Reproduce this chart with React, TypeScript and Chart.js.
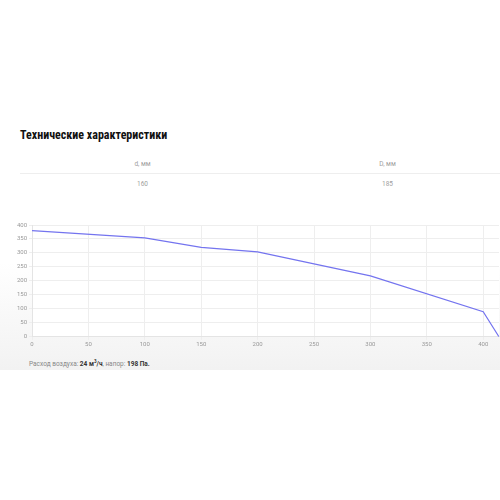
import { useEffect, useRef } from "react";
import Chart from "chart.js/auto";
import type { Plugin } from "chart.js";

// air flow, m3/h
const flowValues = [0, 100, 150, 200, 300, 400, 414];
// pressure, Pa
const pressureValues = [380, 354, 320, 304, 218, 90, 0];

const tableHeaders = ["d, мм", "D, мм"];
const tableValues = ["160", "185"];

const chartAreaBackground: Plugin<"line"> = {
    id: "chartAreaBackground",
    beforeDraw(chart) {
        const { ctx, chartArea } = chart;
        ctx.save();
        ctx.fillStyle = "#ffffff";
        ctx.fillRect(
            chartArea.left,
            chartArea.top,
            chartArea.right - chartArea.left,
            chartArea.bottom - chartArea.top
        );
        ctx.restore();
    },
};

function FanCurve() {
    const canvasRef = useRef<HTMLCanvasElement | null>(null);
    const chartRef = useRef<Chart | null>(null);

    useEffect(() => {
        const canvas = canvasRef.current;
        if (!canvas) {
            return;
        }

        if (chartRef.current) {
            chartRef.current.destroy();
        }

        const points = flowValues.map((x, i) => ({ x, y: pressureValues[i] }));
        const tickFont = { family: "Roboto, Arial, sans-serif", size: 6 };

        chartRef.current = new Chart(canvas, {
            type: "line",
            data: {
                datasets: [
                    {
                        data: points,
                        borderColor: "#7474ef",
                        backgroundColor: "#7474ef",
                        borderWidth: 1.2,
                        pointRadius: 0,
                        tension: 0,
                        fill: false,
                    },
                ],
            },
            options: {
                animation: false,
                responsive: true,
                maintainAspectRatio: false,
                layout: { padding: { top: 6, right: 1, left: 0, bottom: 0 } },
                scales: {
                    x: {
                        type: "linear",
                        min: 0,
                        max: 414,
                        grid: { color: "#eeeeee", drawTicks: true, tickLength: 3 },
                        border: { color: "#e4e4e4" },
                        ticks: {
                            stepSize: 50,
                            includeBounds: false,
                            color: "#999999",
                            font: tickFont,
                            padding: 1,
                            maxRotation: 0,
                        },
                    },
                    y: {
                        min: 0,
                        max: 400,
                        afterFit: (scale) => {
                            scale.width = 32;
                        },
                        grid: { color: "#eeeeee", drawTicks: true, tickLength: 3 },
                        border: { color: "#e4e4e4" },
                        ticks: {
                            stepSize: 50,
                            color: "#999999",
                            font: tickFont,
                            padding: 2,
                        },
                    },
                },
                plugins: {
                    legend: { display: false },
                    tooltip: { enabled: false },
                },
            },
            plugins: [chartAreaBackground],
        });

        return () => {
            if (chartRef.current) {
                chartRef.current.destroy();
                chartRef.current = null;
            }
        };
    }, []);

    return <canvas ref={canvasRef} />;
}

export default function App() {
    const smallText = {
        fontFamily: "Roboto, Arial, sans-serif",
        fontSize: 6.5,
        color: "#a0a0a0",
    };

    return (
        <div
            style={{
                position: "absolute",
                left: 0,
                top: 0,
                width: 500,
                height: 500,
                background: "#ffffff",
                overflow: "hidden",
            }}
        >
            <div
                style={{
                    position: "absolute",
                    left: 20,
                    top: 128,
                    fontFamily:
                        "'Liberation Sans Narrow', 'Roboto Condensed', 'Arial Narrow', Roboto, sans-serif",
                    fontWeight: 700,
                    fontSize: 12,
                    color: "#111111",
                    whiteSpace: "nowrap",
                }}
            >
                Технические характеристики
            </div>

            <div style={{ position: "absolute", left: 20, top: 155, width: 490 }}>
                <div style={{ display: "flex", height: 18, alignItems: "center" }}>
                    {tableHeaders.map((h) => (
                        <div key={h} style={{ ...smallText, flex: 1, textAlign: "center" }}>
                            {h}
                        </div>
                    ))}
                </div>
                <div style={{ height: 1, background: "#eeeeee" }} />
                <div style={{ display: "flex", height: 20, alignItems: "center" }}>
                    {tableValues.map((v, i) => (
                        <div key={i} style={{ ...smallText, flex: 1, textAlign: "center" }}>
                            {v}
                        </div>
                    ))}
                </div>
            </div>

            <div
                style={{
                    position: "absolute",
                    left: 0,
                    top: 205,
                    width: 500,
                    height: 165,
                    background: "linear-gradient(#ffffff 35%, #f2f2f2 100%)",
                }}
            />

            <div style={{ position: "absolute", left: 0, top: 219, width: 500, height: 130 }}>
                <FanCurve />
            </div>

            <div
                style={{
                    position: "absolute",
                    left: 29,
                    top: 359,
                    fontFamily: "Roboto, Arial, sans-serif",
                    fontSize: 6.5,
                    color: "#888888",
                    whiteSpace: "nowrap",
                }}
            >
                Расход воздуха: <b style={{ color: "#333333" }}>24 м<sup style={{ fontSize: 4.5 }}>3</sup>/ч</b>, напор:{" "}
                <b style={{ color: "#333333" }}>198 Па.</b>
            </div>
        </div>
    );
}
